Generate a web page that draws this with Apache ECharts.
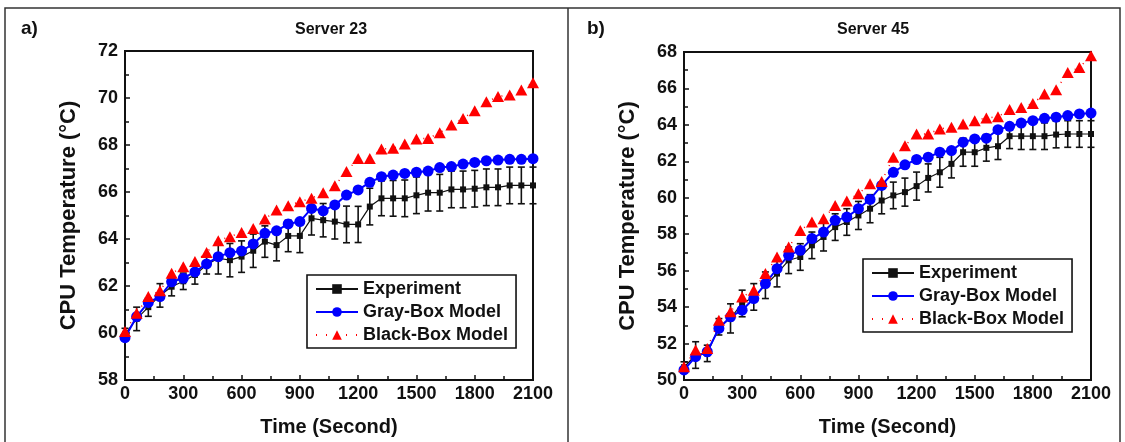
<!DOCTYPE html>
<html><head><meta charset="utf-8">
<script src="https://cdn.jsdelivr.net/npm/echarts@6/dist/echarts.min.js"></script>
<style>html,body{margin:0;padding:0;background:#fff}#c{width:1125px;height:442px}</style>
</head><body><div id="c"></div><script>
const times = [0,60,120,180,240,300,360,420,480,540,600,660,720,780,840,900,960,1020,1080,1140,1200,1260,1320,1380,1440,1500,1560,1620,1680,1740,1800,1860,1920,1980,2040,2100];
const seriesNames = ['Experiment','Gray-Box Model','Black-Box Model'];
const panelTitles = ['Server 23','Server 45'];
const panelLetters = ['a)','b)'];

const s23Exp = [59.95,60.6,61.1,61.6,61.97,62.2,62.47,62.9,63.18,63.1,63.25,63.5,63.89,63.74,64.13,64.13,64.88,64.8,64.74,64.62,64.62,65.38,65.73,65.73,65.73,65.86,65.97,65.97,66.11,66.11,66.14,66.2,66.2,66.28,66.28,66.28];
const s23Err = [0.25,0.5,0.39,0.5,0.39,0.35,0.39,0.39,0.67,0.71,0.67,0.71,0.67,0.67,0.67,0.71,0.71,0.71,0.74,0.78,0.77,0.78,0.74,0.76,0.78,0.78,0.78,0.78,0.78,0.78,0.78,0.78,0.78,0.78,0.78,0.78];
const s23Gray = [59.8,60.7,61.3,61.55,62.18,62.33,62.6,62.94,63.25,63.42,63.49,63.79,64.24,64.35,64.64,64.74,65.3,65.2,65.45,65.87,66.09,66.41,66.65,66.72,66.79,66.84,66.89,67.04,67.08,67.19,67.26,67.33,67.36,67.39,67.39,67.42];
const s23Black = [60.06,60.84,61.55,61.8,62.54,62.82,63.04,63.43,63.93,64.1,64.28,64.45,64.85,65.23,65.42,65.59,65.73,65.97,66.27,66.87,67.43,67.43,67.83,67.86,68.04,68.26,68.28,68.52,68.85,69.13,69.46,69.84,70.06,70.13,70.34,70.65];

const s45Exp = [50.7,51.37,51.46,52.92,53.38,54.2,54.56,55.2,55.84,56.57,56.75,57.39,57.85,58.39,58.67,59.03,59.4,59.85,60.13,60.31,60.64,61.09,61.4,61.86,62.5,62.5,62.74,62.83,63.38,63.38,63.38,63.38,63.47,63.5,63.5,63.5];
const s45Err = [0.3,0.73,0.45,0.45,0.8,0.73,0.73,0.73,0.73,0.73,0.73,0.73,0.77,0.73,0.73,0.77,0.77,0.73,0.73,0.77,0.77,0.77,0.82,0.77,0.77,0.77,0.73,0.73,0.68,0.73,0.73,0.73,0.73,0.73,0.73,0.73];
const s45Gray = [50.55,51.28,51.55,52.83,53.47,53.83,54.47,55.29,56.11,56.84,57.12,57.76,58.12,58.76,58.94,59.4,59.91,60.68,61.4,61.81,62.1,62.23,62.5,62.59,63.05,63.23,63.27,63.74,63.92,64.1,64.23,64.36,64.42,64.51,64.6,64.65];
const s45Black = [50.73,51.64,51.73,53.28,53.74,54.56,54.93,55.84,56.75,57.3,58.21,58.67,58.85,59.58,59.82,60.22,60.77,60.89,62.23,62.86,63.5,63.5,63.78,63.87,64.05,64.23,64.38,64.45,64.84,64.96,65.18,65.69,65.93,66.88,67.15,67.79];

const xMin = 0, xMax = 2100, xStep = 300;
const y1Min = 58, y1Max = 72, y2Min = 50, y2Max = 68, yStep = 2;

const chart = echarts.init(document.getElementById('c'));
const pairs = a => times.map((t,i)=>[t,a[i]]);
const errData = (v,e) => times.map((t,i)=>[t, v[i]-e[i], v[i]+e[i]]);

function errItem(params, api){
  const x = api.value(0), lo = api.value(1), hi = api.value(2);
  const p1 = api.coord([x, hi]), p2 = api.coord([x, lo]);
  const w = 3.5, st = {stroke:'#111', lineWidth:1.6};
  return {type:'group', children:[
    {type:'line', shape:{x1:p1[0],y1:p1[1],x2:p2[0],y2:p2[1]}, style:st},
    {type:'line', shape:{x1:p1[0]-w,y1:p1[1],x2:p1[0]+w,y2:p1[1]}, style:st},
    {type:'line', shape:{x1:p2[0]-w,y1:p2[1],x2:p2[0]+w,y2:p2[1]}, style:st}
  ]};
}

const FONT = '"Liberation Sans", Arial, sans-serif';
const tickFont = {color:'#111', fontWeight:'bold', fontSize:18, fontFamily:FONT};
function xAxis(gi){
  return {type:'value', gridIndex:gi, min:xMin, max:xMax, interval:xStep,
    name:'Time (Second)', nameLocation:'middle', nameGap:37,
    nameTextStyle:{color:'#111', fontWeight:'bold', fontSize:20, fontFamily:FONT},
    axisLine:{show:true, lineStyle:{color:'#111', width:2}},
    axisTick:{show:true, inside:true, length:5, lineStyle:{color:'#111', width:1.5}},
    minorTick:{show:true, splitNumber:2, length:4, lineStyle:{color:'#111', width:1.5}},
    axisLabel:Object.assign({margin:5, formatter:v=>String(v)}, tickFont),
    splitLine:{show:false}};
}
function yAxis(gi, mn, mx){
  return {type:'value', gridIndex:gi, min:mn, max:mx, interval:yStep,
    name:'CPU Temperature (°C)', nameLocation:'middle', nameGap:45,
    nameTextStyle:{color:'#111', fontWeight:'bold', fontSize:22, fontFamily:FONT},
    axisLine:{show:true, lineStyle:{color:'#111', width:2}},
    axisTick:{show:true, inside:true, length:5, lineStyle:{color:'#111', width:1.5}},
    minorTick:{show:true, splitNumber:2, length:4, lineStyle:{color:'#111', width:1.5}},
    axisLabel:Object.assign({margin:7}, tickFont),
    splitLine:{show:false}};
}
function seriesFor(gi, exp, err, gray, black){
  return [
    {type:'custom', name:'err'+gi, xAxisIndex:gi, yAxisIndex:gi, renderItem:errItem, encode:{x:0,y:[1,2]}, data:errData(exp,err), z:2, silent:true},
    {type:'line', name:seriesNames[0], xAxisIndex:gi, yAxisIndex:gi, data:pairs(exp), symbol:'rect', symbolSize:6,
      itemStyle:{color:'#111'}, lineStyle:{color:'#111', width:1.2}, z:3},
    {type:'line', name:seriesNames[1], xAxisIndex:gi, yAxisIndex:gi, data:pairs(gray), symbol:'circle', symbolSize:11,
      itemStyle:{color:'#0000ff'}, lineStyle:{color:'#0000ff', width:2}, z:4},
    {type:'line', name:seriesNames[2], xAxisIndex:gi, yAxisIndex:gi, data:pairs(black), symbol:'triangle', symbolSize:[12,11],
      itemStyle:{color:'#ff0000'}, lineStyle:{color:'#ff0000', width:1.5, type:[1,9]}, z:5}
  ];
}
function legend(left, top){
  return {data:seriesNames, orient:'vertical', left:left, top:top, itemWidth:42, itemHeight:12, itemGap:5,
    padding:[5,8,4,8], borderColor:'#111', borderWidth:1.6, backgroundColor:'#fff',
    textStyle:{color:'#111', fontWeight:'bold', fontSize:18, fontFamily:FONT},
    selectedMode:false};
}
const textStyleCommon = {fill:'#111', fontWeight:'bold', fontFamily:FONT};
chart.setOption({
  animation:false,
  grid:[
    {left:125, top:51, width:408, height:329, show:true, borderColor:'#111', borderWidth:2, backgroundColor:'transparent'},
    {left:684, top:52, width:407, height:329, show:true, borderColor:'#111', borderWidth:2, backgroundColor:'transparent'}
  ],
  xAxis:[xAxis(0), xAxis(1)],
  yAxis:[yAxis(0,y1Min,y1Max), yAxis(1,y2Min,y2Max)],
  legend:[legend(307,275), legend(863,259)],
  series:[].concat(seriesFor(0,s23Exp,s23Err,s23Gray,s23Black), seriesFor(1,s45Exp,s45Err,s45Gray,s45Black)),
  graphic:[
    {type:'rect', shape:{x:5,y:8,width:1115,height:450}, style:{fill:'none', stroke:'#333', lineWidth:1.5}, silent:true},
    {type:'line', shape:{x1:568,y1:8,x2:568,y2:442}, style:{stroke:'#333', lineWidth:1.5}, silent:true},
    {type:'text', left:21, top:19, style:Object.assign({text:panelLetters[0], fontSize:19}, textStyleCommon)},
    {type:'text', left:587, top:19, style:Object.assign({text:panelLetters[1], fontSize:19}, textStyleCommon)},
    {type:'text', x:331, y:30, style:Object.assign({text:panelTitles[0], fontSize:16, textAlign:'center', textVerticalAlign:'middle'}, textStyleCommon)},
    {type:'text', x:873, y:30, style:Object.assign({text:panelTitles[1], fontSize:16, textAlign:'center', textVerticalAlign:'middle'}, textStyleCommon)}
  ]
});
</script></body></html>
